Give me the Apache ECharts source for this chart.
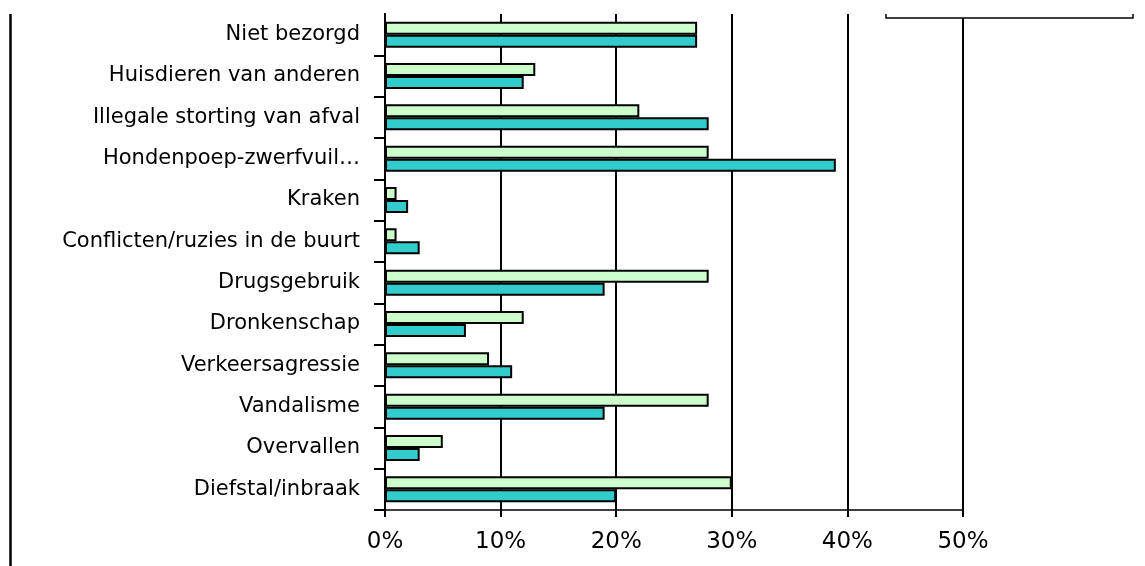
<!DOCTYPE html>
<html>
<head>
<meta charset="utf-8">
<script src="https://cdn.jsdelivr.net/npm/echarts@6/dist/echarts.min.js"></script>
<style>
html,body{margin:0;padding:0;background:#fff;}
#chart{width:1145px;height:566px;}
</style>
</head>
<body>
<div id="chart"></div>
<script>
const categories = [
  'Niet bezorgd',
  'Huisdieren van anderen',
  'Illegale storting van afval',
  'Hondenpoep-zwerfvuil…',
  'Kraken',
  'Conflicten/ruzies in de buurt',
  'Drugsgebruik',
  'Dronkenschap',
  'Verkeersagressie',
  'Vandalisme',
  'Overvallen',
  'Diefstal/inbraak'
];
const seriesLight = [27, 13, 22, 28, 1, 1, 28, 12, 9, 28, 5, 30];
const seriesTeal  = [27, 12, 28, 39, 2, 3, 19, 7, 11, 19, 3, 20];
const xTicks = [0, 10, 20, 30, 40, 50];

const chart = echarts.init(document.getElementById('chart'), null, {renderer: 'canvas'});
const font = 'DejaVu Sans';
chart.setOption({
  backgroundColor: '#fff',
  animation: false,
  grid: {left: 385, right: 182, top: 14, bottom: 56, containLabel: false},
  xAxis: {
    type: 'value',
    min: xTicks[0],
    max: xTicks[xTicks.length - 1],
    interval: 10,
    axisLine: {show: true, lineStyle: {color: '#000', width: 1.5}},
    axisTick: {show: true, length: 7, lineStyle: {color: '#000', width: 2}},
    axisLabel: {formatter: '{value}%', color: '#000', fontFamily: font, fontSize: 23, margin: 21},
    splitLine: {show: true, lineStyle: {color: '#000', width: 2}}
  },
  yAxis: {
    type: 'category',
    data: categories,
    inverse: true,
    axisLine: {show: true, lineStyle: {color: '#000', width: 2}},
    axisTick: {show: true, length: 11, lineStyle: {color: '#000', width: 2}},
    axisLabel: {color: '#000', fontFamily: font, fontSize: 21, margin: 25},
    splitLine: {show: false}
  },
  series: [
    {
      name: 'A', type: 'bar', data: seriesLight, barWidth: 13, barGap: '0%',
      itemStyle: {color: '#CCFFCC', borderColor: '#000', borderWidth: 2}
    },
    {
      name: 'B', type: 'bar', data: seriesTeal, barWidth: 13, barGap: '0%',
      itemStyle: {color: '#33CCCC', borderColor: '#000', borderWidth: 2}
    }
  ],
  graphic: [
    {type: 'line', shape: {x1: 10.5, y1: 14, x2: 10.5, y2: 566}, style: {stroke: '#000', lineWidth: 2.5}, z: 10},
    {type: 'rect', shape: {x: 370, y: 0, width: 14, height: 15}, style: {fill: '#fff', stroke: null}, z: 10},
    {type: 'rect', shape: {x: 886, y: 0, width: 247, height: 18}, style: {fill: '#fff', stroke: null}, z: 10},
    {type: 'polyline', shape: {points: [[886, 14], [886, 18], [1133, 18], [1133, 14]]}, style: {fill: null, stroke: '#000', lineWidth: 1.5}, z: 11}
  ]
});
</script>
</body>
</html>
